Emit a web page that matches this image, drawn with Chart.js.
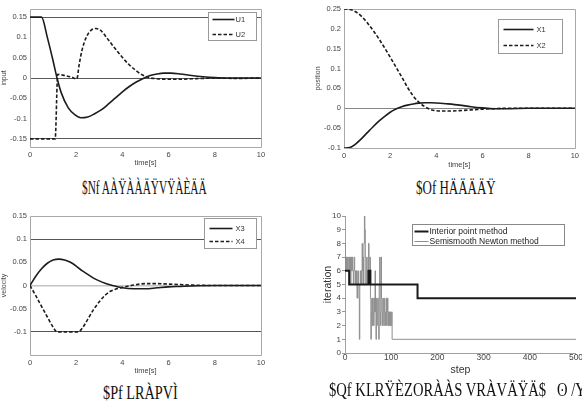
<!DOCTYPE html>
<html>
<head>
<meta charset="utf-8">
<script src="https://cdn.jsdelivr.net/npm/chart.js@4.4.0/dist/chart.umd.min.js"></script>
<style>
  html, body { margin: 0; padding: 0; background: #fff; width: 582px; height: 404px; overflow: hidden; position: relative; }
  canvas { position: absolute; }
  .cap { position: absolute; font-family: 'Liberation Serif', serif; font-size: 19px; line-height: 19px; color: #111; white-space: nowrap; transform-origin: left top; }
</style>
</head>
<body>
<canvas id="cInput" width="270" height="170" style="left:0;top:0"></canvas>
<canvas id="cPosition" width="291" height="172" style="left:291px;top:0"></canvas>
<canvas id="cVelocity" width="270" height="178" style="left:0;top:200px"></canvas>
<canvas id="cIteration" width="296" height="180" style="left:291px;top:200px"></canvas>

<div class="cap" data-x="82" data-w="125" style="top:178px">$Nf AÀŸÀÀÄŸVŸÀÈÄÄ</div>
<div class="cap" data-x="416" data-w="80" style="top:178px">$Of HÄÄÄÄŸ</div>
<div class="cap" data-x="103" data-w="75" style="top:383px">$Pf LRÀPVÌ</div>
<div class="cap" data-x="329" data-w="262" style="top:380px">$Qf KLRŸÈZORÀÀS VRÀVÄŸÄ$&nbsp;&nbsp;&nbsp;ʘ /Yf</div>

<script>
// Eixo de tempo comum
const timeTicks = [0, 2, 4, 6, 8, 10];

// (a) entrada
const tU1 = [0, 0.5, 0.75, 1.0, 1.17, 1.35, 1.65, 1.95, 2.2, 2.5, 2.8, 3.1, 3.4, 3.7, 4.0, 4.3, 4.6, 4.9, 5.2, 5.5, 5.8, 6.1, 6.5, 7.0, 7.5, 8.0, 8.5, 9.0, 10];
const u1 = [0.15, 0.15, 0.1, 0.042, 0, -0.036, -0.073, -0.091, -0.098, -0.096, -0.088, -0.078, -0.064, -0.049, -0.034, -0.021, -0.010, -0.001, 0.006, 0.010, 0.012, 0.012, 0.010, 0.006, 0.003, 0.001, 0, 0, 0];
const tU2 = [0, 1.09, 1.2, 1.5, 1.8, 2.03, 2.12, 2.25, 2.45, 2.65, 2.85, 3.05, 3.35, 3.65, 3.95, 4.25, 4.55, 4.85, 5.15, 5.5, 6.0, 6.5, 7.0, 7.5, 8.0, 9.0, 10];
const u2 = [-0.15, -0.15, 0.009, 0.006, 0.002, -0.002, 0.03, 0.068, 0.102, 0.118, 0.122, 0.118, 0.097, 0.075, 0.054, 0.035, 0.02, 0.008, 0.001, -0.002, -0.003, -0.003, -0.002, -0.001, 0, -0.001, 0];
const inputTicks = [-0.15, -0.1, -0.05, 0, 0.05, 0.1, 0.15];
const inputRefs = [-0.15, 0, 0.15];

// (b) posição
const tPos = [0, 0.25, 0.5, 0.75, 1.0, 1.25, 1.5, 1.75, 2.0, 2.25, 2.5, 2.75, 3.0, 3.25, 3.5, 3.75, 4.0, 4.5, 5.0, 5.5, 6.0, 6.5, 7.0, 8.0, 9.0, 10];
const x1 = [-0.1, -0.099, -0.090, -0.077, -0.062, -0.047, -0.033, -0.021, -0.010, -0.002, 0.004, 0.008, 0.011, 0.013, 0.014, 0.014, 0.0135, 0.011, 0.008, 0.004, 0.001, -0.001, -0.001, 0, 0, 0];
const x2 = [0.25, 0.249, 0.243, 0.232, 0.216, 0.197, 0.176, 0.153, 0.129, 0.104, 0.079, 0.053, 0.031, 0.015, 0.004, -0.003, -0.006, -0.007, -0.006, -0.004, -0.002, -0.001, 0, 0, 0, 0];
const posTicks = [-0.1, -0.05, 0, 0.05, 0.1, 0.15, 0.2, 0.25];
const posRefs = [0];

// (c) velocidade
const tX3 = [0, 0.25, 0.5, 0.75, 1.0, 1.25, 1.5, 1.75, 2.0, 2.25, 2.5, 2.75, 3.0, 3.25, 3.5, 3.75, 4.0, 4.5, 5.0, 5.5, 6.0, 6.5, 7.0, 8.0, 9.0, 10];
const x3 = [0, 0.020, 0.036, 0.048, 0.055, 0.057, 0.055, 0.050, 0.042, 0.032, 0.024, 0.016, 0.010, 0.005, 0.001, -0.002, -0.005, -0.007, -0.007, -0.005, -0.003, -0.002, -0.001, 0, 0, 0];
const tX4 = [0, 0.25, 0.5, 0.75, 1.0, 1.17, 1.5, 2.0, 2.1, 2.25, 2.5, 2.75, 3.0, 3.25, 3.5, 3.75, 4.0, 4.5, 5.0, 5.5, 6.0, 6.5, 7.0, 8.0, 9.0, 10];
const x4 = [0, -0.022, -0.045, -0.068, -0.09, -0.1, -0.1, -0.1, -0.1, -0.093, -0.073, -0.052, -0.035, -0.021, -0.012, -0.007, -0.004, 0.001, 0.004, 0.004, 0.003, 0.002, 0.001, 0, 0, 0];
const velTicks = [-0.1, -0.05, 0, 0.05, 0.1, 0.15];
const velRefs = [-0.1, 0, 0.1];

// (d) iterações
const stepTicks = [0, 100, 200, 300, 400, 500];
const iterTicks = [0, 1, 2, 3, 4, 5, 6, 7, 8, 9, 10];
const ipSteps = [0, 9, 51, 55, 157, 500];
const ipIter = [6, 5, 6, 5, 4, 4];
const newtonIter = [8, 6, 7, 6, 7, 6, 7, 6, 6, 7, 6, 7, 5, 6, 7, 6, 7, 6, 5, 6,
  7, 6, 5, 6, 5, 6, 4, 5, 6, 5, 4, 1, 5, 6, 5, 6, 5, 8, 6, 7,
  5, 8, 10, 9, 7, 5, 6, 7, 5, 6, 5, 8, 6, 5, 7, 4, 1, 3, 4, 2,
  4, 3, 2, 4, 3, 6, 3, 1, 4, 2, 3, 4, 3, 1, 5, 7, 3, 2, 7, 4,
  3, 2, 4, 3, 2, 4, 3, 2, 3, 4, 2, 3, 4, 2, 3, 2, 3, 2, 3, 2,
  2, 3, 1];
const newtonTailStep = 500;
const newtonTailIter = 1;

const pts = (xs, ys) => xs.map((x, i) => ({ x: x, y: ys[i] }));
const FONT = 'Liberation Sans';

// Moldura do gráfico
const framePlugin = {
  id: 'frame',
  beforeDatasetsDraw(chart, args, opts) {
    const { left, top, right, bottom } = chart.chartArea;
    const ctx = chart.ctx;
    ctx.save();
    ctx.strokeStyle = opts.color || '#a0a0a0';
    ctx.lineWidth = 1;
    ctx.beginPath();
    if (opts.full) {
      ctx.rect(Math.round(left) + 0.5, Math.round(top) + 0.5, Math.round(right - left), Math.round(bottom - top));
    } else {
      ctx.moveTo(Math.round(left) + 0.5, Math.round(top));
      ctx.lineTo(Math.round(left) + 0.5, Math.round(bottom) + 0.5);
      ctx.lineTo(Math.round(right), Math.round(bottom) + 0.5);
    }
    ctx.stroke();
    ctx.restore();
  }
};

// Legenda em caixa dentro da área do gráfico
const boxLegendPlugin = {
  id: 'boxLegend',
  afterDraw(chart, args, o) {
    if (!o || !o.w) return;
    const ctx = chart.ctx;
    const bx = Math.round(chart.chartArea.right - o.dx) + 0.5;
    const by = Math.round(chart.chartArea.top + o.dy) + 0.5;
    ctx.save();
    ctx.fillStyle = '#fff';
    ctx.strokeStyle = o.border || '#999';
    ctx.lineWidth = 1;
    ctx.fillRect(bx, by, o.w, o.h);
    ctx.strokeRect(bx, by, o.w, o.h);
    ctx.font = o.font;
    ctx.textBaseline = 'middle';
    chart.data.datasets.forEach((ds, i) => {
      const y = Math.round(by + o.rows[i]) + 0.5;
      ctx.strokeStyle = ds.borderColor;
      ctx.lineWidth = ds.borderWidth;
      ctx.setLineDash(ds.borderDash || []);
      ctx.beginPath();
      ctx.moveTo(bx + o.sx, y);
      ctx.lineTo(bx + o.sx + o.sw, y);
      ctx.stroke();
      ctx.setLineDash([]);
      ctx.fillStyle = o.color || '#333';
      ctx.fillText(ds.label, bx + o.tx, y);
    });
    ctx.restore();
  }
};

Chart.register(framePlugin, boxLegendPlugin);

function lineSet(label, data, dashed) {
  return {
    label: label,
    data: data,
    borderColor: '#1c1c1c',
    borderWidth: 1.6,
    borderDash: dashed ? [3.5, 2] : [],
    cubicInterpolationMode: 'monotone',
    pointRadius: 0,
    fill: false
  };
}

function timeChart(id, o) {
  const refColor = o.refColor || (() => '#666');
  return new Chart(document.getElementById(id), {
    type: 'line',
    data: { datasets: o.datasets },
    options: {
      responsive: false,
      animation: false,
      devicePixelRatio: 1,
      layout: { padding: { top: o.padTop, right: o.padRight, left: 0, bottom: 0 } },
      plugins: {
        legend: { display: false },
        tooltip: { enabled: false },
        frame: { full: true, color: '#a8a8a8' },
        boxLegend: o.legend
      },
      scales: {
        x: {
          type: 'linear', min: 0, max: 10,
          afterBuildTicks: s => { s.ticks = timeTicks.map(v => ({ value: v })); },
          afterFit: s => { s.height = o.xH; },
          grid: { display: false, drawTicks: false },
          border: { display: false },
          ticks: { padding: 3, autoSkip: false, maxRotation: 0, color: '#444', font: { family: FONT, size: 7.5 } },
          title: { display: true, text: 'time[s]', color: '#444', font: { family: FONT, size: 7.5 }, padding: { top: 0, bottom: o.xTitlePad } }
        },
        y: {
          type: 'linear', min: o.min, max: o.max,
          afterBuildTicks: s => { s.ticks = o.ticks.map(v => ({ value: v })); },
          afterFit: s => { s.width = o.yW; },
          grid: {
            drawTicks: false,
            color: c => (o.refs.includes(c.tick.value) ? refColor(c.tick.value) : 'rgba(0,0,0,0)'),
            lineWidth: c => (o.refWidth ? o.refWidth(c.tick.value) : 1)
          },
          border: { display: false },
          ticks: { padding: 3, autoSkip: false, color: '#444', font: { family: FONT, size: 7.5 }, callback: v => String(v) },
          title: { display: true, text: o.yTitle, color: '#444', font: { family: FONT, size: 7 }, padding: { top: o.yTitlePad, bottom: 0 } }
        }
      }
    }
  });
}

timeChart('cInput', {
  datasets: [lineSet('U1', pts(tU1, u1), false), lineSet('U2', pts(tU2, u2), true)],
  padTop: 9, padRight: 9, xH: 23, yW: 30, xTitlePad: 3, yTitlePad: 0,
  min: -0.17, max: 0.17, ticks: inputTicks, refs: inputRefs, yTitle: 'input',
  refColor: () => '#5a5a5a',
  legend: { dx: 53, dy: 3, w: 48, h: 28, rows: [6, 21], sx: 4, sw: 22, tx: 27, font: '7.5px ' + FONT }
});

timeChart('cPosition', {
  datasets: [lineSet('X1', pts(tPos, x1), false), lineSet('X2', pts(tPos, x2), true)],
  padTop: 9, padRight: 6, xH: 24, yW: 53, xTitlePad: 3, yTitlePad: 23,
  min: -0.1, max: 0.25, ticks: posTicks, refs: posRefs, yTitle: 'position',
  refColor: () => '#888',
  legend: { dx: 77, dy: 10, w: 64, h: 34, rows: [9, 25], sx: 5, sw: 30, tx: 38, font: '7.5px ' + FONT }
});

timeChart('cVelocity', {
  datasets: [lineSet('X3', pts(tX3, x3), false), lineSet('X4', pts(tX4, x4), true)],
  padTop: 16, padRight: 9, xH: 23, yW: 30, xTitlePad: 3, yTitlePad: 0,
  min: -0.15, max: 0.15, ticks: velTicks, refs: velRefs, yTitle: 'velocity',
  refColor: v => (v === 0 ? '#c4c4c4' : '#555'),
  refWidth: v => (v === 0 ? 1.6 : 1),
  legend: { dx: 57, dy: 2, w: 52, h: 30, rows: [9, 22], sx: 5, sw: 23, tx: 31, font: '7.5px ' + FONT }
});

// (d) número de iterações por passo
new Chart(document.getElementById('cIteration'), {
  type: 'line',
  data: {
    datasets: [
      {
        label: 'Interior point method',
        data: pts(ipSteps, ipIter),
        borderColor: '#1a1a1a', borderWidth: 2, stepped: true, pointRadius: 0, fill: false
      },
      {
        label: 'Semismooth Newton method',
        data: newtonIter.map((v, i) => ({ x: i, y: v })).concat([{ x: newtonTailStep, y: newtonTailIter }]),
        borderColor: '#8f8f8f', borderWidth: 1, stepped: true, pointRadius: 0, fill: false
      }
    ]
  },
  options: {
    responsive: false,
    animation: false,
    devicePixelRatio: 1,
    layout: { padding: { top: 16, right: 11, left: 0, bottom: 0 } },
    plugins: {
      legend: { display: false },
      tooltip: { enabled: false },
      frame: { full: false, color: '#a0a0a0' },
      boxLegend: { dx: 164, dy: 8, w: 152, h: 21, rows: [6, 16], sx: 2, sw: 14, tx: 17, font: '8.5px ' + FONT, color: '#222', border: '#888' }
    },
    scales: {
      x: {
        type: 'linear', min: 0, max: 500,
        afterBuildTicks: s => { s.ticks = stepTicks.map(v => ({ value: v })); },
        afterFit: s => { s.height = 27; },
        grid: { display: false, drawTicks: false },
        border: { display: false },
        ticks: { padding: 0, autoSkip: false, maxRotation: 0, color: '#444', font: { family: FONT, size: 8.5 } },
        title: { display: true, text: 'step', color: '#333', font: { family: FONT, size: 10.5 }, padding: { top: 0, bottom: 4 } }
      },
      y: {
        type: 'linear', min: 0, max: 10,
        afterBuildTicks: s => { s.ticks = iterTicks.map(v => ({ value: v })); },
        afterFit: s => { s.width = 54; },
        grid: { drawOnChartArea: false, drawTicks: true, tickLength: 3, color: '#999' },
        border: { display: false },
        ticks: { padding: 1, autoSkip: false, color: '#444', font: { family: FONT, size: 8 } },
        title: { display: true, text: 'iteration', color: '#333', font: { family: FONT, size: 10.5 }, padding: { top: 31, bottom: 0 } }
      }
    }
  }
});

// Ajuste da largura das legendas de baixo
document.querySelectorAll('.cap').forEach(el => {
  const w = parseFloat(el.dataset.w);
  el.style.left = el.dataset.x + 'px';
  el.style.transform = 'scaleX(' + (w / el.offsetWidth) + ')';
});
</script>
</body>
</html>
